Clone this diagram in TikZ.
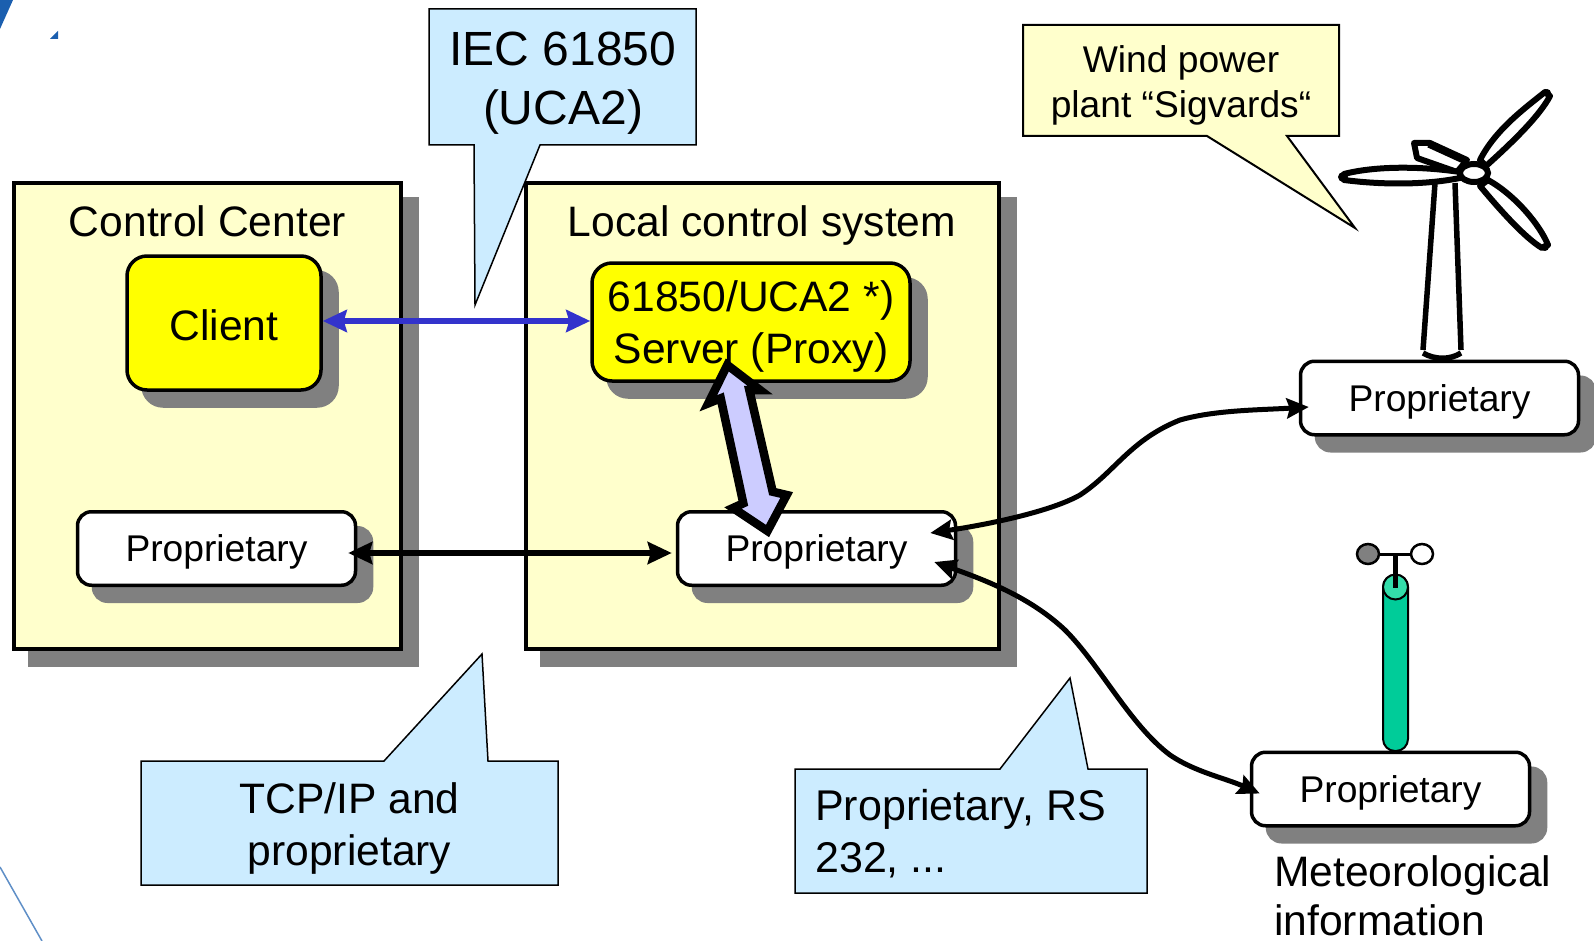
\documentclass[tikz,border=0pt]{standalone}
\usepackage{fontspec}
\setmainfont{Liberation Sans}
\usetikzlibrary{arrows.meta, shadows}
\definecolor{paleyellow}{HTML}{FFFFCC}
\definecolor{paleblue}{HTML}{CCECFF}
\definecolor{shadowgrey}{HTML}{808080}
\definecolor{linkblue}{HTML}{3333CC}
\definecolor{linklilac}{HTML}{CCCCFF}
\definecolor{mastgreen}{HTML}{00CC99}
\definecolor{masttop}{HTML}{33DDAA}
\definecolor{cornerblue}{HTML}{1B5FAF}
\definecolor{brightyellow}{HTML}{FFFF00}
\tikzset{
  boxshadow/.style = {drop shadow = {shadow xshift = 16pt, shadow yshift = -16pt,
    fill = shadowgrey, draw = shadowgrey, opacity = 1}},
  sitebox/.style = {draw, line width = 3.5pt, fill = paleyellow, boxshadow},
  yellowbox/.style = {draw, line width = 3.5pt, fill = brightyellow, rounded corners = 20pt,
    boxshadow, align = center, inner sep = 0pt},
  propbox/.style = {draw, line width = 3.5pt, fill = white, rounded corners = 14pt,
    boxshadow, minimum width = 278pt, minimum height = 73.5pt, inner sep = 0pt,
    text depth = 0pt, font = \fontsize{37.2}{45}\selectfont},
  titletext/.style = {font = \fontsize{42.6}{52}\selectfont, align = center, inner sep = 0pt},
  bluecall/.style = {draw, line width = 1.5pt, fill = paleblue},
  bluelink/.style = {{Stealth[length = 24pt, width = 22pt, inset = 3pt]}-{Stealth[length = 24pt, width = 22pt, inset = 3pt]},
    line width = 5.5pt, draw = linkblue},
  blacklink/.style = {{Stealth[length = 24pt, width = 22pt, inset = 3pt]}-{Stealth[length = 24pt, width = 22pt, inset = 3pt]},
    line width = 6pt},
  curvelink/.style = {{Stealth[length = 22pt, width = 20pt, inset = 3pt]}-{Stealth[length = 22pt, width = 20pt, inset = 3pt]},
    line width = 5pt},
  turbine/.style = {line width = 6pt, fill = white, line join = round}
}
\begin{document}
\begin{tikzpicture}[y = -1pt, x = 1pt]
  \useasboundingbox (0, 0) rectangle (1594, 941);
  % corner marks
  \fill[cornerblue] (0, 0) -- (13, 0) -- (0, 29) -- cycle;
  \fill[cornerblue] (50, 39) -- (58, 31) -- (58, 39) -- cycle;
  \draw[line width = 1.5pt, draw = cornerblue!70] (0, 867) -- (42, 941);

  \node[sitebox, minimum width = 387pt, minimum height = 466pt] (center) at (207.5, 416) {};
  \node[sitebox, minimum width = 473pt, minimum height = 466pt] (local) at (762.5, 416) {};
  \node[titletext] (centertitle) at (207.5, 221) {Control Center};
  \node[titletext] (localtitle) at (762, 225) {Local control system};

  \node[yellowbox, minimum width = 194pt, minimum height = 134pt, titletext] (client) at (224, 323)
    {\rule{0pt}{35pt}Client};
  \node[yellowbox, minimum width = 318pt, minimum height = 118pt, titletext] (server) at (751, 322)
    {\rule{0pt}{39pt}61850/UCA2 *)\\Server (Proxy)};
  \node[propbox] (propa) at (216.5, 548.5) {Proprietary};
  \node[propbox] (propb) at (816.5, 548.5) {Proprietary};
  \node[propbox] (propc) at (1439.5, 398) {Proprietary};
  \node[propbox] (propd) at (1390.5, 789) {Proprietary};

  % callouts
  \draw (429, 9) -- (696, 9) -- (696, 145) -- (540, 145) -- (475, 305) --
        (474, 145) -- (429, 145) -- cycle [bluecall];
  \draw (1023, 25) -- (1339, 25) -- (1339, 136) -- (1287, 136) -- (1355, 228) --
        (1207, 136) -- (1023, 136) -- cycle [line width = 2pt, fill = paleyellow];
  \draw (141, 761) -- (384, 761) -- (482, 654) -- (488, 761) -- (558, 761) --
        (558, 885) -- (141, 885) -- cycle [bluecall];
  \draw (795, 769) -- (1000, 769) -- (1070, 678) -- (1088, 769) -- (1147, 769) --
        (1147, 893) -- (795, 893) -- cycle [bluecall];
  \node[font = \fontsize{48}{59}\selectfont, align = center, inner sep = 0pt] (ieclabel) at (563, 83)
    {IEC 61850\\(UCA2)};
  \node[font = \fontsize{37.2}{45}\selectfont, align = center, inner sep = 0pt] (windlabel) at (1181, 85)
    {Wind power\\plant “Sigvards“};
  \node[titletext] (tcplabel) at (349.5, 828) {TCP/IP and\\proprietary};
  \node[font = \fontsize{43}{52}\selectfont, align = left, inner sep = 0pt, anchor = west] (rslabel) at (815, 834)
    {Proprietary, RS\\232, ...};
  \node[font = \fontsize{42.6}{49}\selectfont, align = left, inner sep = 0pt, anchor = west] (metlabel) at (1274, 896)
    {Meteorological\\information};

  % links
  \draw[bluelink] ([yshift = 2pt] client.east) -- ([yshift = 2pt] client.east -| server.west);
  \draw[blacklink] ([xshift = -9pt, yshift = -4.5pt] propa.east) -- ([yshift = -4.5pt, xshift = -4pt] propb.west);
  \draw[curvelink] ([xshift = -27pt, yshift = 15.5pt] propb.east) .. controls (985, 525) and (1050, 512) ..
    (1080, 495) .. controls (1115, 472) and (1130, 440) .. (1180, 420) .. controls (1215, 410) and (1260, 410) ..
    ([xshift = 10pt, yshift = -9pt] propc.west);
  \draw[curvelink] ([xshift = -23pt, yshift = -13.5pt] propb.east) .. controls (985, 580) and (1030, 597) ..
    (1065, 630) .. controls (1100, 665) and (1130, 725) .. (1170, 755) .. controls (1195, 772) and (1225, 778) ..
    ([xshift = 10pt, yshift = -4.5pt] propd.west);
  \draw (727.3, 365) -- (708.3, 403.3) -- (720.7, 398.3) -- (743.3, 503.3) -- (733, 508) --
        (767.5, 531) -- (786.7, 495) -- (772.7, 491.7) -- (749.3, 390) -- (760, 390) -- cycle
        [line width = 8.5pt, fill = linklilac, line join = miter];

  % turbine
  \draw[line width = 5.5pt] (1435, 183) -- (1423, 350);
  \draw[line width = 5.5pt] (1455, 183) -- (1461, 350);
  \draw[line width = 5.5pt] (1423, 353) .. controls (1435, 360) and (1450, 360) .. (1461, 353);
  \draw (1467, 160) -- (1430, 143) -- (1414, 143) -- (1417, 158) -- (1457, 172) -- cycle [turbine];
  \draw[line width = 3pt] (1428, 146) -- (1463, 162);
  \draw (1460, 178) .. controls (1420, 186) and (1375, 184) .. (1344, 180) -- (1344, 174)
        .. controls (1375, 166) and (1420, 166) .. (1460, 172) -- cycle [turbine];
  \draw (1480, 160) .. controls (1495, 130) and (1525, 108) .. (1545, 92) -- (1550, 96)
        .. controls (1540, 115) and (1515, 140) .. (1486, 166) -- cycle [turbine];
  \draw (1488, 180) .. controls (1515, 195) and (1540, 225) .. (1548, 245) -- (1542, 248)
        .. controls (1525, 238) and (1500, 210) .. (1480, 186) -- cycle [turbine];
  \fill (1343, 177) circle (5pt);
  \fill (1547, 93) circle (4pt);
  \fill (1545, 247) circle (4pt);
  \draw[line width = 6pt, fill = white] (1474, 173) ellipse (14pt and 9pt);

  % anemometer
  \draw[line width = 2pt, fill = mastgreen, rounded corners = 12pt] (1383, 575) rectangle (1408, 751);
  \draw[line width = 2pt, fill = masttop] (1395.5, 587) circle (12.5pt);
  \draw[line width = 5pt] (1395, 554) -- (1395, 588);
  \draw[line width = 3pt] (1368, 554) -- (1422, 554);
  \draw[line width = 2.5pt, fill = shadowgrey] (1368, 554) ellipse (11pt and 10pt);
  \draw[line width = 2.5pt, fill = white] (1422, 554) ellipse (11pt and 10pt);
\end{tikzpicture}
\end{document}
